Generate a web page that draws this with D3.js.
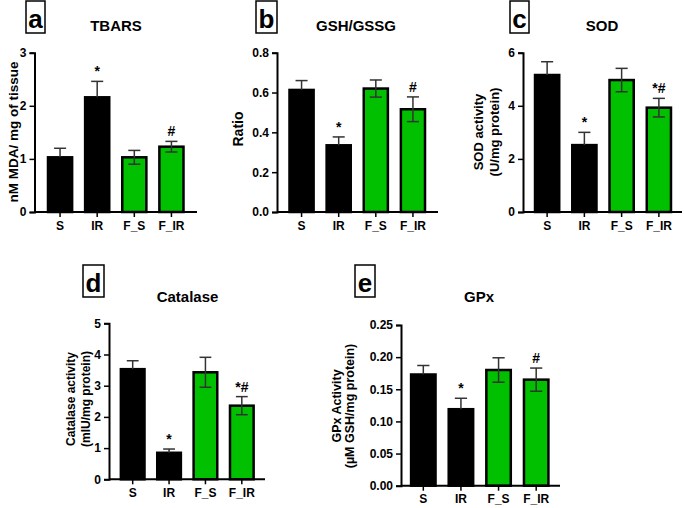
<!DOCTYPE html>
<html>
<head>
<meta charset="utf-8">
<script src="https://cdn.jsdelivr.net/npm/d3@7"></script>
<style>
  html, body { margin: 0; padding: 0; background: #fff; }
  svg { display: block; }
  text { font-family: "Liberation Sans", Arial, sans-serif; font-weight: bold; fill: #000; }
</style>
</head>
<body>
<svg id="chart" width="685" height="508"></svg>
<script>
// ---------- DATA ----------
const categories = ["S", "IR", "F_S", "F_IR"];
const barColors = ["#000000", "#000000", "#00c000", "#00c000"];

const tbarsValues = [1.03, 2.16, 1.03, 1.23];
const tbarsErrors = [0.17, 0.30, 0.13, 0.10];
const tbarsTicks  = [0, 1, 2, 3];
const tbarsSig    = ["", "*", "", "#"];

const gshValues = [0.613, 0.335, 0.62, 0.516];
const gshErrors = [0.047, 0.042, 0.043, 0.062];
const gshTicks  = [0.0, 0.2, 0.4, 0.6, 0.8];
const gshSig    = ["", "*", "", "#"];

const sodValues = [5.16, 2.52, 4.97, 3.93];
const sodErrors = [0.50, 0.48, 0.44, 0.35];
const sodTicks  = [0, 2, 4, 6];
const sodSig    = ["", "*", "", "*#"];

const catValues = [3.53, 0.85, 3.43, 2.36];
const catErrors = [0.27, 0.12, 0.48, 0.29];
const catTicks  = [0, 1, 2, 3, 4, 5];
const catSig    = ["", "*", "", "*#"];

const gpxValues = [0.173, 0.119, 0.180, 0.165];
const gpxErrors = [0.014, 0.017, 0.019, 0.018];
const gpxTicks  = [0.00, 0.05, 0.10, 0.15, 0.20, 0.25];
const gpxSig    = ["", "*", "", "#"];

// ---------- LAYOUT ----------
const panels = [
  { letter: "a", title: "TBARS", ylabel: ["nM MDA/ mg of tissue"], values: tbarsValues, errors: tbarsErrors, ticks: tbarsTicks, sig: tbarsSig, fmt: d3.format("d"),
    box: [26, 1, 19, 32], titleX: 116, titleY: 31, axisX: 34.5, axisEnd: 197, band: [41.5, 190], y0: 212, y1: 52.7, labelX: [13], labelY: 132, labelSize: 13.5 },
  { letter: "b", title: "GSH/GSSG", ylabel: ["Ratio"], values: gshValues, errors: gshErrors, ticks: gshTicks, sig: gshSig, fmt: d3.format(".1f"),
    box: [256, 1, 21, 32], titleX: 356, titleY: 31, axisX: 277, axisEnd: 438, band: [283, 431.5], y0: 212, y1: 52.7, labelX: [238], labelY: 129, labelSize: 14 },
  { letter: "c", title: "SOD", ylabel: ["SOD activity", "(U/mg protein)"], values: sodValues, errors: sodErrors, ticks: sodTicks, sig: sodSig, fmt: d3.format("d"),
    box: [510, 1, 19, 32], titleX: 602, titleY: 31, axisX: 523, axisEnd: 682, band: [528.5, 677.5], y0: 212, y1: 52.7, labelX: [478, 494], labelY: 132, labelSize: 13 },
  { letter: "d", title: "Catalase", ylabel: ["Catalase activity", "(mIU/mg protein)"], values: catValues, errors: catErrors, ticks: catTicks, sig: catSig, fmt: d3.format("d"),
    box: [83, 265, 21, 32], titleX: 187.5, titleY: 302, axisX: 109, axisEnd: 265, band: [114.5, 260], y0: 479.3, y1: 323.3, labelX: [71, 86], labelY: 399, labelSize: 12 },
  { letter: "e", title: "GPx", ylabel: ["GPx Activity", "(\u00b5M GSH/mg protein)"], values: gpxValues, errors: gpxErrors, ticks: gpxTicks, sig: gpxSig, fmt: d3.format(".2f"),
    box: [355, 265, 20, 32], titleX: 479, titleY: 302, axisX: 401, axisEnd: 560, band: [404.5, 555], y0: 485.7, y1: 325, labelX: [337, 350], labelY: 406, labelSize: 12.5 }
];

const svg = d3.select("#chart");

panels.forEach(p => {
  const g = svg.append("g");
  const x = d3.scaleBand().domain(categories).range(p.band).paddingInner(0.35).paddingOuter(0.175);
  const y = d3.scaleLinear().domain([p.ticks[0], p.ticks[p.ticks.length - 1]]).range([p.y0, p.y1]);

  // letter box
  g.append("rect").attr("x", p.box[0]).attr("y", p.box[1]).attr("width", p.box[2]).attr("height", p.box[3])
    .attr("fill", "none").attr("stroke", "#000").attr("stroke-width", 1.5);
  g.append("text").attr("x", p.box[0] + p.box[2] / 2).attr("y", p.box[1] + p.box[3] - 5)
    .attr("text-anchor", "middle").style("font-size", "26px").text(p.letter);

  // title
  g.append("text").attr("x", p.titleX).attr("y", p.titleY).attr("text-anchor", "middle")
    .style("font-size", "15px").text(p.title);

  // bars
  g.selectAll("rect.bar").data(categories).enter().append("rect").attr("class", "bar")
    .attr("x", d => x(d)).attr("width", x.bandwidth())
    .attr("y", (d, i) => y(p.values[i])).attr("height", (d, i) => y(0) - y(p.values[i]))
    .attr("fill", (d, i) => barColors[i]).attr("stroke", "#000").attr("stroke-width", 2.5);

  // error bars (the lower half is hidden inside black bars, as in the original)
  const capW = x.bandwidth() / 2;
  categories.forEach((c, i) => {
    const cx = x(c) + x.bandwidth() / 2;
    const mid = y(p.values[i]);
    const hi = y(p.values[i] + p.errors[i]);
    const lo = y(p.values[i] - p.errors[i]);
    const showLow = barColors[i] !== "#000000";
    const eg = g.append("g").attr("stroke", "#333").attr("stroke-width", 1.5);
    eg.append("line").attr("x1", cx).attr("x2", cx).attr("y1", hi).attr("y2", showLow ? lo : mid);
    eg.append("line").attr("x1", cx - capW / 2).attr("x2", cx + capW / 2).attr("y1", hi).attr("y2", hi);
    if (showLow) eg.append("line").attr("x1", cx - capW / 2).attr("x2", cx + capW / 2).attr("y1", lo).attr("y2", lo);
    if (p.sig[i]) {
      g.append("text").attr("x", cx).attr("y", hi - 5).attr("text-anchor", "middle")
        .style("font-size", "14px").text(p.sig[i]);
    }
  });

  // y axis
  const yAxis = d3.axisLeft(y).tickValues(p.ticks).tickFormat(p.fmt).tickSize(5).tickPadding(3);
  const ya = g.append("g").attr("transform", `translate(${p.axisX},0)`).call(yAxis);
  // x axis
  const xAxis = d3.axisBottom(x).tickSize(5).tickPadding(4);
  const xa = g.append("g").attr("transform", `translate(0,${p.y0})`).call(xAxis);
  xa.select(".domain").attr("d", `M${p.axisX},0H${p.axisEnd}`);
  [ya, xa].forEach(a => {
    a.select(".domain").attr("stroke", "#000").attr("stroke-width", 2);
    a.selectAll(".tick line").attr("stroke", "#000").attr("stroke-width", 1.5);
    a.selectAll(".tick text").style("font-family", "'Liberation Sans', Arial, sans-serif")
      .style("font-weight", "bold").style("font-size", "12px").attr("fill", "#000");
  });

  // y label
  p.ylabel.forEach((t, k) => {
    g.append("text").attr("transform", `translate(${p.labelX[k]},${p.labelY}) rotate(-90)`)
      .attr("text-anchor", "middle").attr("dominant-baseline", "central")
      .style("font-size", p.labelSize + "px").text(t);
  });
});
</script>
</body>
</html>
